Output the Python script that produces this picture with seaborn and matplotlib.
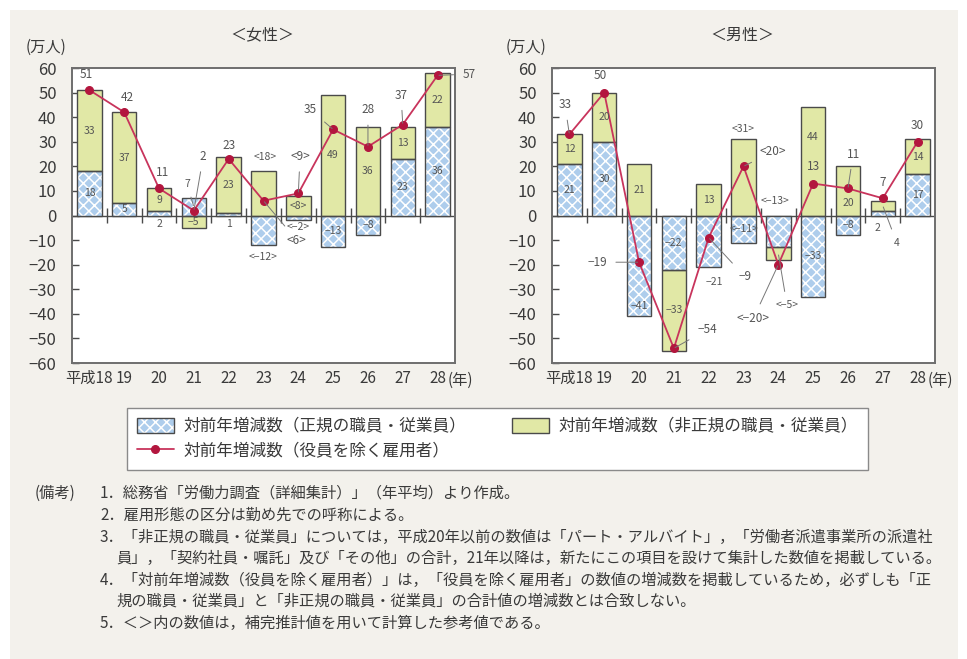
import matplotlib
matplotlib.use("Agg")
import matplotlib.pyplot as plt
import matplotlib.transforms as mtransforms
from matplotlib.patches import Patch, Rectangle
from matplotlib.lines import Line2D
import pandas as pd
import seaborn as sns

# ---- data (万人, change from previous year) ----
years = ["平成18", "19", "20", "21", "22", "23", "24", "25", "26", "27", "28"]

female_regular = [18, 5, 2, 7, 1, -12, -2, -13, -8, 23, 36]
female_nonregular = [33, 37, 9, -5, 23, 18, 8, 49, 36, 13, 22]
female_total = [51, 42, 11, 2, 23, 6, 9, 35, 28, 37, 57]

male_regular = [21, 30, -41, -22, -21, -11, -13, -33, -8, 2, 17]
male_nonregular = [12, 20, 21, -33, 13, 31, -5, 44, 20, 4, 14]
male_total = [33, 50, -19, -54, -9, 20, -20, 13, 11, 7, 30]

# years shown as reference values (bracketed)
reference_years = ["23", "24"]

legend_labels = ["対前年増減数（正規の職員・従業員）",
                 "対前年増減数（役員を除く雇用者）",
                 "対前年増減数（非正規の職員・従業員）"]

notes = [
    "1．総務省「労働力調査（詳細集計）」（年平均）より作成。",
    "2．雇用形態の区分は勤め先での呼称による。",
    "3．「非正規の職員・従業員」については，平成20年以前の数値は「パート・アルバイト」，「労働者派遣事業所の派遣社",
    "員」，「契約社員・嘱託」及び「その他」の合計，21年以降は，新たにこの項目を設けて集計した数値を掲載している。",
    "4．「対前年増減数（役員を除く雇用者）」は，「役員を除く雇用者」の数値の増減数を掲載しているため，必ずしも「正",
    "規の職員・従業員」と「非正規の職員・従業員」の合計値の増減数とは合致しない。",
    "5．＜＞内の数値は，補完推計値を用いて計算した参考値である。",
]

# ---- style ----
sns.set_theme(style="white")
plt.rcParams["font.family"] = ["Noto Sans CJK JP", "DejaVu Sans"]
plt.rcParams["hatch.linewidth"] = 1.1

BG = "#f3f1ec"
REG_FILL = "#aecdec"
NON_FILL = "#e1e8a6"
EDGE = "#4a4a4a"
LINE = "#c8345c"
MARK = "#b3163e"
TEXT = "#3a3a3a"
LABEL = "#555555"

W, H = 967, 659
fig = plt.figure(figsize=(W / 100, H / 100), dpi=100, facecolor="white")
fig.patches.append(Rectangle((10 / W, 0), 948 / W, 1 - 10 / H, transform=fig.transFigure,
                             facecolor=BG, edgecolor="none", zorder=-10))


def px(x, y):
    return x / W, 1 - y / H


ax_f = fig.add_axes([72 / W, 1 - 363 / H, 383 / W, 295 / H])
ax_m = fig.add_axes([552 / W, 1 - 363 / H, 383 / W, 295 / H])


def fmt(v, year):
    s = str(v).replace("-", "−")
    return f"<{s}>" if year in reference_years else s


def put_label(ax, x, y, text, dx, dy, leader, size):
    if leader:
        ax.annotate(text, xy=(x, y), xytext=(x + dx, y + dy), ha="center", va="center",
                    fontsize=size, color=LABEL, zorder=6, annotation_clip=False,
                    arrowprops=dict(arrowstyle="-", color="#777777", lw=0.7,
                                    shrinkA=4, shrinkB=1))
    else:
        ax.text(x + dx, y + dy, text, ha="center", va="center", fontsize=size,
                color=LABEL, zorder=6, clip_on=False)


def draw_panel(ax, regular, nonregular, total, seg_adjust, tot_adjust):
    df = pd.DataFrame({"year": years, "regular": regular,
                       "nonregular": nonregular, "total": total})
    # non-regular stacks on regular when both share the same sign
    df["base"] = [r if (r >= 0) == (n >= 0) else 0 for r, n in zip(regular, nonregular)]

    ax.axhline(0, color=EDGE, lw=1.0, zorder=1.5)
    ax.vlines([i + 0.5 for i in range(len(years) - 1)], -3, 3, color=EDGE, lw=1.0, zorder=1.5)

    for col, fill, hatch, base in [("regular", REG_FILL, "xxx", None),
                                   ("nonregular", NON_FILL, None, "base")]:
        extra = {} if base is None else {"bottom": df[base].to_numpy()}
        sns.barplot(data=df, x="year", y=col, order=years, color=fill, saturation=1,
                    width=0.7, errorbar=None, edgecolor="white" if hatch else fill,
                    hatch=hatch, linewidth=0, zorder=2, ax=ax, **extra)
        sns.barplot(data=df, x="year", y=col, order=years, color=EDGE, fill=False,
                    width=0.7, errorbar=None, linewidth=1.0, zorder=2.2, ax=ax, **extra)

    sns.pointplot(data=df, x="year", y="total", order=years, color=LINE, markers="o",
                  markersize=5.5, linewidth=1.3, errorbar=None, zorder=4, ax=ax)
    for ln in ax.lines:
        if len(ln.get_xdata()) == len(years):
            ln.set_markerfacecolor(MARK)
            ln.set_markeredgecolor(MARK)

    # segment labels
    for i, year in enumerate(years):
        r, n, b = regular[i], nonregular[i], df["base"][i]
        for kind, center, v in [("regular", r / 2, r), ("nonregular", b + n / 2, n)]:
            dx, dy, leader = seg_adjust.get((kind, i), (0, 0, False))
            put_label(ax, i, center, fmt(v, year), dx, dy, leader, 7.5)
        dx, dy, leader = tot_adjust.get(i, (0, 6, False))
        put_label(ax, i, total[i], fmt(total[i], year), dx, dy, leader, 8.5)

    ax.set_xlim(-0.5, len(years) - 0.5)
    ax.set_ylim(-60, 60)
    ax.set_yticks(range(-60, 61, 10))
    ax.set_yticklabels([str(v).replace("-", "−") for v in range(-60, 61, 10)])
    ax.set_xticks(range(len(years)))
    ax.set_xticklabels(years)
    ax.set_xlabel("")
    ax.set_ylabel("")
    ax.set_facecolor("white")
    ax.tick_params(axis="y", direction="in", length=5, width=1, color=EDGE, left=True,
                   labelsize=12, pad=11, labelcolor=TEXT)
    ax.tick_params(axis="x", length=0, labelsize=11, pad=5, labelcolor=TEXT)
    for sp in ax.spines.values():
        sp.set_color("#6e6e6e")
        sp.set_linewidth(1.4)
    trans = mtransforms.blended_transform_factory(ax.transData, ax.transAxes)
    ax.text(10.3, -0.058, "(年)", transform=trans, ha="left", va="center",
            fontsize=11, color=TEXT, clip_on=False)


female_seg = {
    ("regular", 2): (0, -4.5, False),
    ("regular", 3): (-0.2, 9.5, True),
    ("regular", 4): (0, -4, False),
    ("regular", 5): (0, -11, False),
    ("nonregular", 5): (0.05, 15, False),
    ("regular", 6): (0, -3.5, False),
}
female_tot = {
    0: (-0.1, 6.5, False),
    1: (0.1, 6, False),
    2: (0.1, 6.5, False),
    3: (0.27, 22, True),
    4: (0, 5.5, False),
    5: (0.95, -16, True),
    6: (0.05, 15, True),
    7: (-0.65, 8, True),
    8: (0, 15, True),
    9: (-0.05, 12, True),
    10: (0.9, 0.5, True),
}
male_seg = {
    ("regular", 2): (0, -16.5, False),
    ("regular", 4): (0.15, -16.5, False),
    ("nonregular", 5): (0, 19.5, False),
    ("regular", 6): (-0.1, 12.5, False),
    ("nonregular", 6): (0.25, -21, True),
    ("nonregular", 7): (0, 10, False),
    ("nonregular", 8): (0, -5, False),
    ("regular", 9): (-0.15, -6, False),
    ("nonregular", 9): (0.4, -15, True),
}
male_tot = {
    0: (-0.13, 12, True),
    1: (-0.1, 7, False),
    2: (-1.2, 0, True),
    3: (0.95, 7.5, True),
    4: (1.05, -16, True),
    5: (0.85, 6, True),
    6: (-0.72, -22, True),
    7: (0, 7, False),
    8: (0.15, 14, True),
    9: (0, 6.5, False),
    10: (0, 6.5, False),
}

draw_panel(ax_f, female_regular, female_nonregular, female_total, female_seg, female_tot)
draw_panel(ax_m, male_regular, male_nonregular, male_total, male_seg, male_tot)

# titles and units
fig.text(*px(262, 35), "＜女性＞", ha="center", va="center", fontsize=11.5, color=TEXT)
fig.text(*px(742, 35), "＜男性＞", ha="center", va="center", fontsize=11.5, color=TEXT)
fig.text(*px(46, 47), "(万人)", ha="center", va="center", fontsize=11, color=TEXT)
fig.text(*px(526, 47), "(万人)", ha="center", va="center", fontsize=11, color=TEXT)

# legend
reg_handle = (Patch(facecolor=REG_FILL, edgecolor="white", hatch="xxx", linewidth=0),
              Patch(facecolor="none", edgecolor=EDGE, linewidth=1.0))
non_handle = Patch(facecolor=NON_FILL, edgecolor=EDGE, linewidth=1.0)
line_handle = Line2D([], [], color=LINE, lw=1.3, marker="o", markersize=5.5,
                     markerfacecolor=MARK, markeredgecolor=MARK)
leg = fig.legend([reg_handle, line_handle, non_handle], legend_labels,
                 loc="upper left", bbox_to_anchor=(127 / W, 1 - 408 / H, 741 / W, 0.0),
                 mode="expand", ncol=2, fontsize=12, frameon=True, fancybox=False,
                 edgecolor="#8a8a8a", facecolor="white", framealpha=1,
                 handlelength=2.2, handleheight=1.0, borderpad=0.6, labelspacing=0.45,
                 handletextpad=0.6, borderaxespad=0)
leg.get_frame().set_linewidth(1.0)
for t in leg.get_texts():
    t.set_color(TEXT)

# notes
note_rows = [493, 515, 537, 558, 580, 601, 623]
note_x = [100, 100, 100, 116, 100, 116, 100]
fig.text(*px(35, 493), "(備考)", ha="left", va="center", fontsize=11, color=TEXT)
for text, y, x in zip(notes, note_rows, note_x):
    fig.text(*px(x, y), text, ha="left", va="center", fontsize=11, color=TEXT)

fig.savefig("out.png", dpi=100, facecolor=fig.get_facecolor())
